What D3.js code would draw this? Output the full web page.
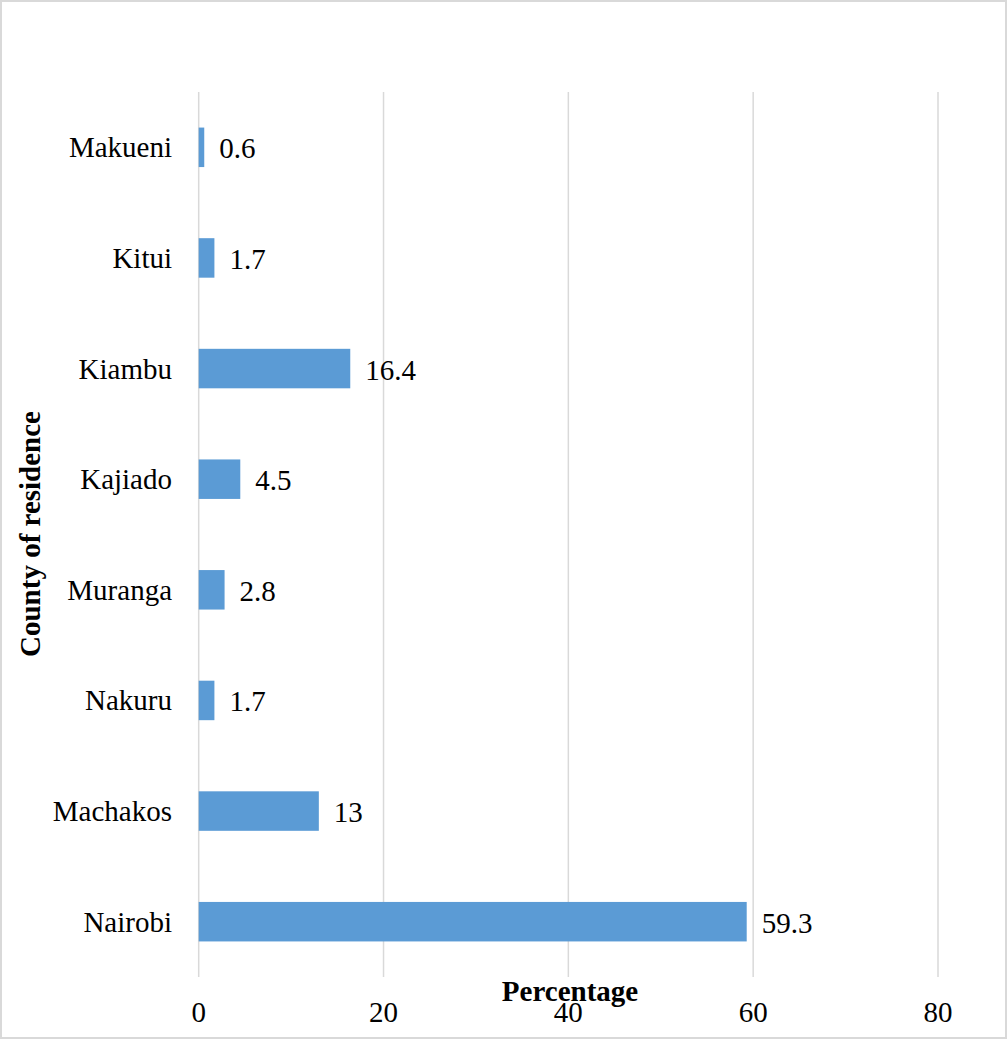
<!DOCTYPE html>
<html><head><meta charset="utf-8">
<script src="https://cdn.jsdelivr.net/npm/d3@7"></script>
<style>html,body{margin:0;padding:0;background:#fff;}</style>
</head><body>
<svg id="c" width="1007" height="1039"></svg>
<script>
const categories = ["Makueni","Kitui","Kiambu","Kajiado","Muranga","Nakuru","Machakos","Nairobi"];
const values = [0.6, 1.7, 16.4, 4.5, 2.8, 1.7, 13, 59.3];
const valueLabels = ["0.6","1.7","16.4","4.5","2.8","1.7","13","59.3"];
const xTicks = [0, 20, 40, 60, 80];

(function(){
const svg = d3.select("#c");
const font = "'Liberation Serif','Times New Roman',serif";
svg.append("rect").attr("x",1).attr("y",1).attr("width",1005).attr("height",1037)
  .attr("fill","#fff").attr("stroke","#d9d9d9").attr("stroke-width",2);

const pLeft = 198.7, pRight = 938, pTop = 92, pBottom = 977;
const x = d3.scaleLinear().domain([0,80]).range([pLeft,pRight]);
const y = d3.scaleBand().domain(categories).range([pTop,pBottom]).paddingInner(0.643).paddingOuter(0.3215);

svg.append("g").selectAll("line").data(xTicks).join("line")
  .attr("x1",d=>x(d)).attr("x2",d=>x(d)).attr("y1",pTop).attr("y2",pBottom)
  .attr("stroke","#d9d9d9").attr("stroke-width",1.5);

svg.append("g").selectAll("rect").data(categories).join("rect")
  .attr("x",x(0)).attr("y",d=>y(d)).attr("height",y.bandwidth())
  .attr("width",(d,i)=>x(values[i])-x(0)).attr("fill","#5b9bd5");

svg.append("g").selectAll("text").data(categories).join("text")
  .attr("x",(d,i)=>x(values[i])+15).attr("y",d=>y(d)+y.bandwidth()/2+11)
  .text((d,i)=>valueLabels[i]).attr("font-family",font).attr("font-size",29).attr("fill","#000");

svg.append("g").selectAll("text").data(categories).join("text")
  .attr("x",172).attr("y",d=>y(d)+y.bandwidth()/2+10).attr("text-anchor","end")
  .text(d=>d).attr("font-family",font).attr("font-size",29).attr("fill","#000");

svg.append("g").selectAll("text").data(xTicks).join("text")
  .attr("x",d=>x(d)).attr("y",1022).attr("text-anchor","middle")
  .text(d=>d).attr("font-family",font).attr("font-size",29).attr("fill","#000");

svg.append("text").attr("x",570).attr("y",1001).attr("text-anchor","middle")
  .attr("font-family",font).attr("font-size",29).attr("font-weight","bold").text("Percentage");

svg.append("text").attr("transform","translate(40,534) rotate(-90)").attr("text-anchor","middle")
  .attr("font-family",font).attr("font-size",29).attr("font-weight","bold").text("County of residence");
})();
</script>
</body></html>
